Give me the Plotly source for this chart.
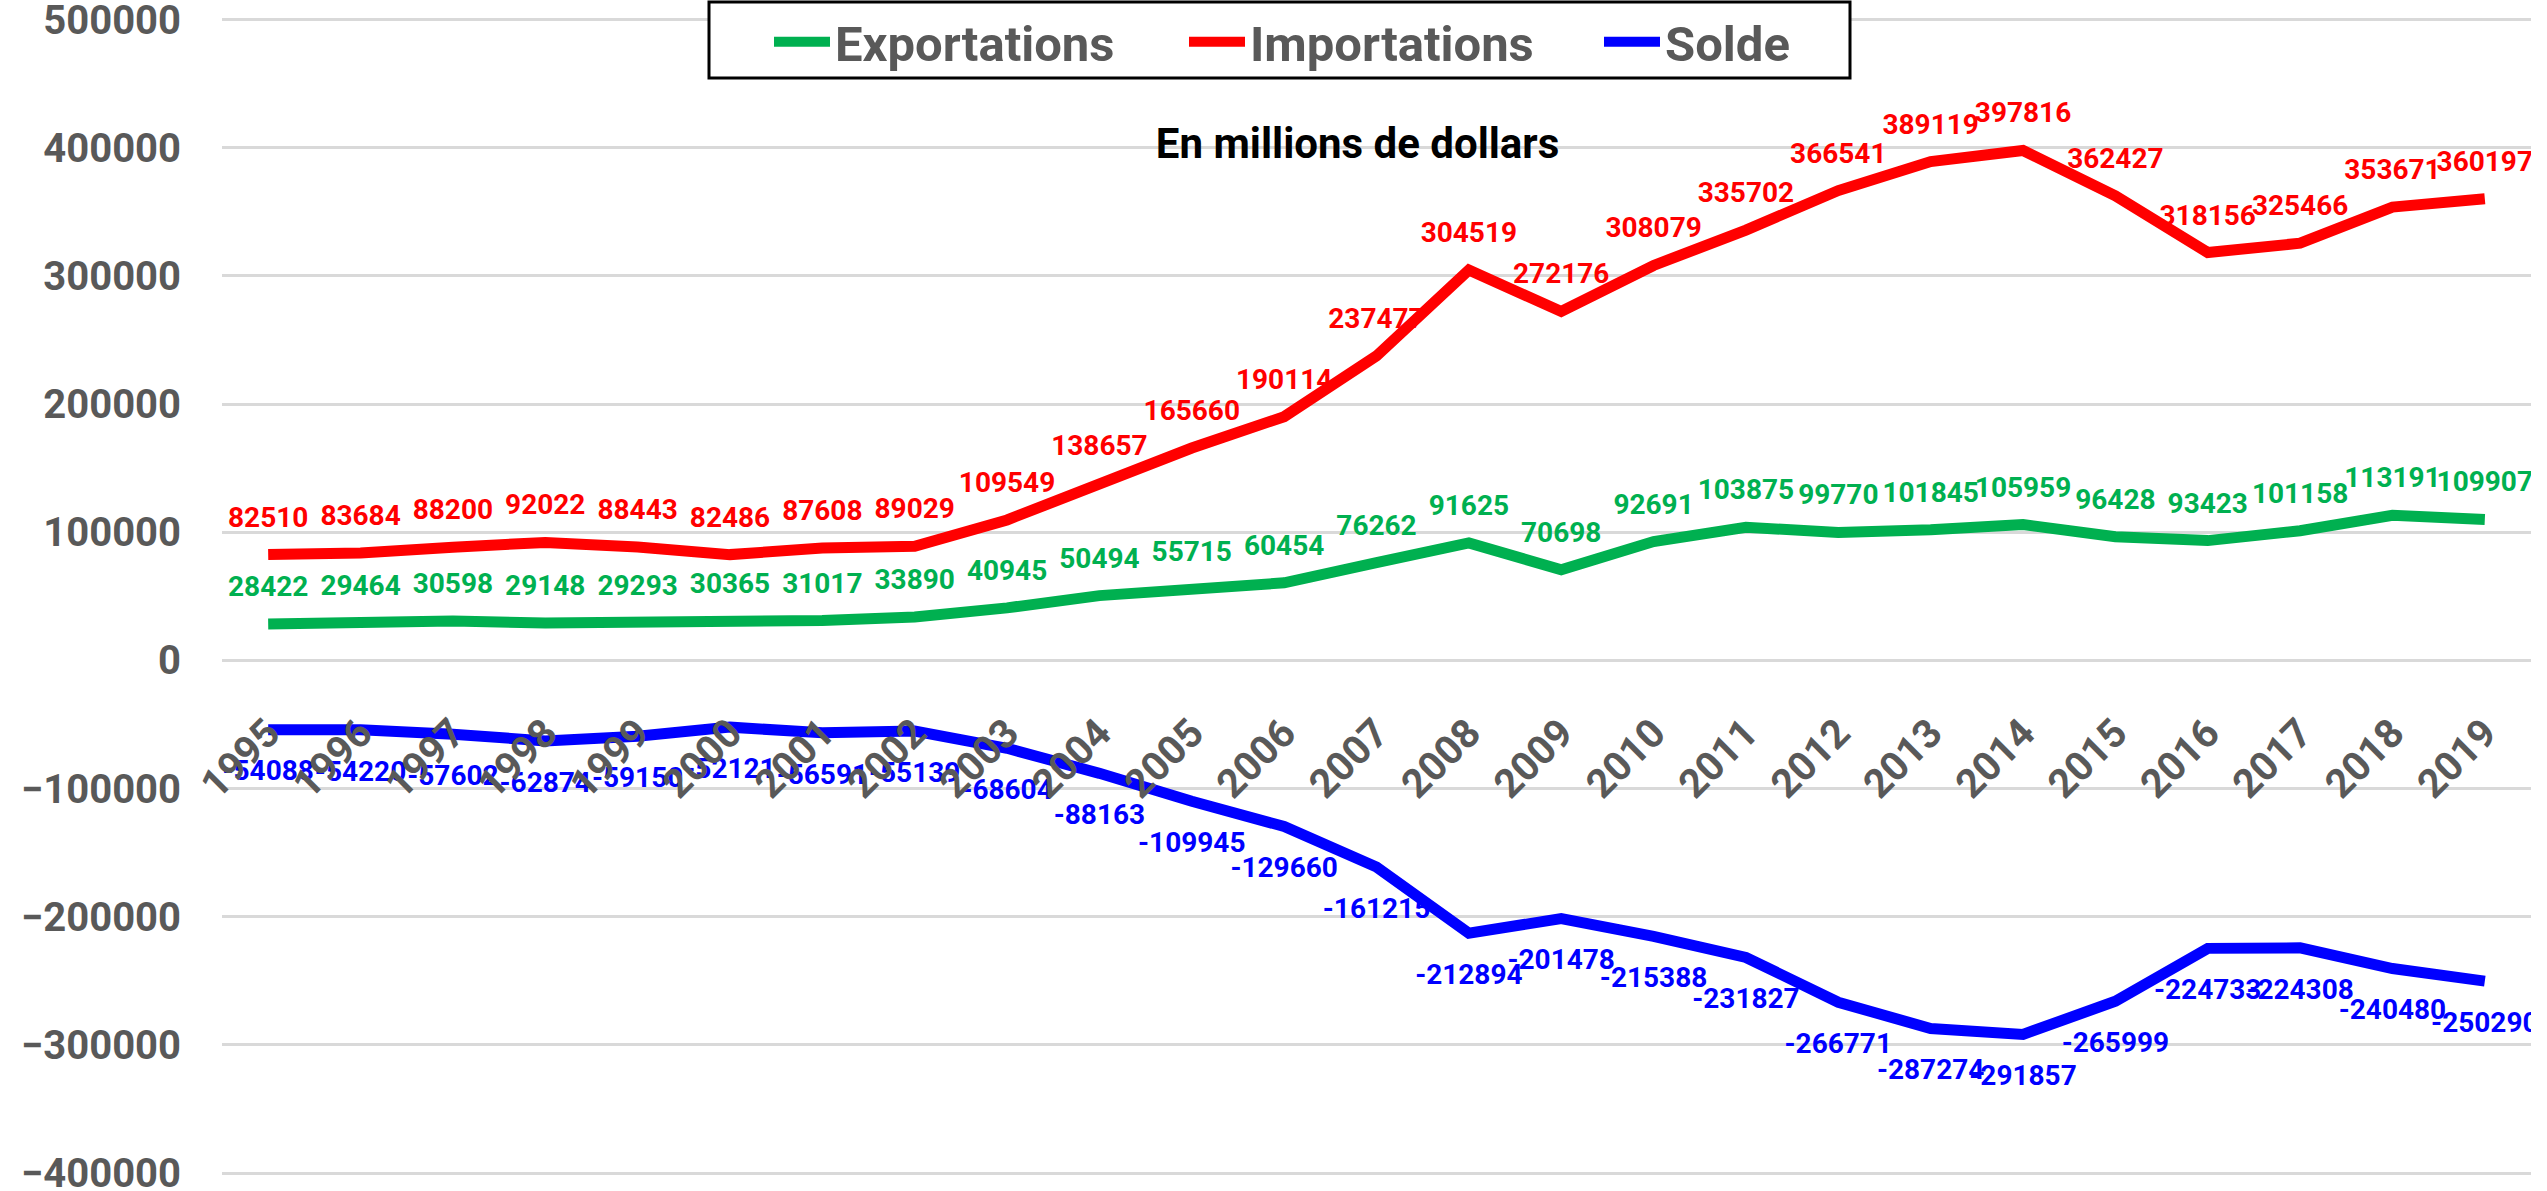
import plotly.graph_objects as go

years = [str(y) for y in range(1995, 2020)]
exportations = [28422, 29464, 30598, 29148, 29293, 30365, 31017, 33890, 40945, 50494,
                55715, 60454, 76262, 91625, 70698, 92691, 103875, 99770, 101845, 105959,
                96428, 93423, 101158, 113191, 109907]
importations = [82510, 83684, 88200, 92022, 88443, 82486, 87608, 89029, 109549, 138657,
                165660, 190114, 237477, 304519, 272176, 308079, 335702, 366541, 389119, 397816,
                362427, 318156, 325466, 353671, 360197]
solde = [-54088, -54220, -57602, -62874, -59150, -52121, -56591, -55139, -68604, -88163,
         -109945, -129660, -161215, -212894, -201478, -215388, -231827, -266771, -287274, -291857,
         -265999, -224733, -224308, -240480, -250290]

series = [
    ("Exportations", exportations, "#00B050", "top center", 32),
    ("Importations", importations, "#FF0000", "top center", 32),
    ("Solde", solde, "#0000FF", "bottom center", 46),
]

FONT = "Roboto"
GRAY = "#595959"
W, H = 2547, 1191
ML, MR, MT, MB = 222, 16, 8, 8
PW, PH = W - ML - MR, H - MT - MB
Y_LO, Y_HI = -407802, 508973

def ypaper(py):
    return (H - MB - py) / PH

fig = go.Figure()
for name, vals, color, pos, msize in series:
    fig.add_trace(go.Scatter(
        x=years, y=vals, name=name, mode="lines",
        line=dict(color=color, width=11), hoverinfo="skip",
    ))
for name, vals, color, pos, msize in series:
    fig.add_trace(go.Scatter(
        x=years, y=vals, name=name, mode="markers+text", showlegend=False,
        marker=dict(size=msize, color="rgba(0,0,0,0)"),
        text=[str(v) for v in vals], textposition=pos,
        textfont=dict(family=FONT, size=28, color=color, weight="bold"),
    ))

# legend frame (pixel box converted to paper coordinates)
bx0, bx1, by0, by1 = 709, 1850, 2, 78
fig.add_shape(type="rect", xref="paper", yref="paper",
              x0=(bx0 - ML) / PW, x1=(bx1 - ML) / PW,
              y0=ypaper(by1), y1=ypaper(by0),
              line=dict(color="black", width=3), fillcolor="white", layer="above")

fig.update_layout(
    template="none",
    width=W, height=H,
    margin=dict(l=ML, r=MR, t=MT, b=MB, autoexpand=False),
    paper_bgcolor="white", plot_bgcolor="white",
    font=dict(family=FONT, color=GRAY),
    title=dict(text="En millions de dollars", x=0.533, y=1 - 143 / H, xanchor="center", yanchor="middle",
               font=dict(family=FONT, size=42, color="black", weight="bold")),
    legend=dict(orientation="h", xref="container", yref="container",
                x=769 / W, xanchor="left", y=1 - 42 / H, yanchor="middle",
                borderwidth=0, bgcolor="rgba(0,0,0,0)",
                font=dict(family=FONT, size=49, color=GRAY, weight="bold"),
                itemwidth=56, entrywidth=344, entrywidthmode="pixels"),
    xaxis=dict(type="category", range=[-0.5, 24.5], anchor="free",
               position=(0 - Y_LO) / (Y_HI - Y_LO),
               showgrid=False, showline=False, zeroline=False, ticks="",
               ticklabelstandoff=40, ticklabeloverflow="allow",
               tickangle=-45, tickfont=dict(family=FONT, size=40, color=GRAY, weight="bold")),
    yaxis=dict(range=[Y_LO, Y_HI], dtick=100000, tick0=0, showgrid=True,
               gridcolor="#d9d9d9", gridwidth=3, zeroline=False, showline=False,
               ticks="", ticklabelstandoff=40, tickformat="d", ticklabeloverflow="allow",
               tickfont=dict(family=FONT, size=40, color=GRAY, weight="bold")),
    showlegend=True,
)

fig.write_html("out.html", config={"displayModeBar": False},
               post_script="document.body.style.margin='0';document.body.style.overflow='hidden';")
